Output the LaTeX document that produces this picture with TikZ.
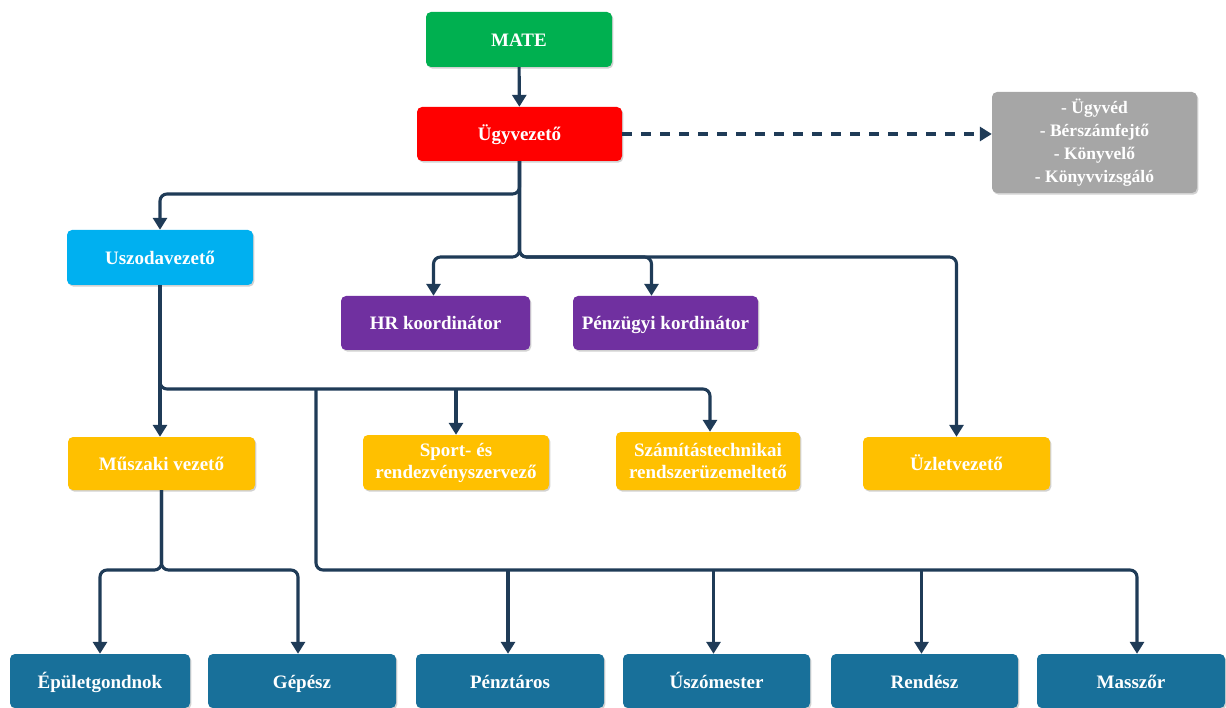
\documentclass[tikz,border=0pt]{standalone}
\usepackage{fontspec}
\setmainfont{Liberation Serif}
\usetikzlibrary{arrows.meta,shadows}
\definecolor{mategreen}{HTML}{00B050}
\definecolor{ugyred}{HTML}{FF0000}
\definecolor{kulsogrey}{HTML}{A6A6A6}
\definecolor{uszblue}{HTML}{00B0F0}
\definecolor{mgmtpurple}{HTML}{7030A0}
\definecolor{leadorange}{HTML}{FFC000}
\definecolor{staffblue}{RGB}{24,112,154}
\definecolor{linecol}{RGB}{31,59,87}
\tikzset{
	box/.style={rounded corners=5pt,text=white,align=center,
		font=\fontsize{19}{22}\selectfont\bfseries,
		text height=16pt,text depth=2pt,
		minimum width=187pt,minimum height=54pt,inner sep=2pt,
		drop shadow={shadow xshift=1.3pt,shadow yshift=-1.6pt,fill=black,opacity=0.18}},
	twoline/.style={text height=,text depth=},
	arr/.style={->,line width=3.1pt,draw=linecol,rounded corners=7pt},
}
\begin{document}
\begin{tikzpicture}[>={Triangle[width=14pt,length=12pt]},x=1pt,y=-1pt]
	\useasboundingbox (0,0) rectangle (1226,708);
	\def\rowb{681}
	% felso szint
	\node[box,fill=mategreen,minimum width=186pt,minimum height=55pt] (mate) at (519,39.5) {MATE};
	\node[box,fill=ugyred,minimum width=205pt] (ugy) at (519.5,134) {Ügyvezető};
	\node[box,twoline,fill=kulsogrey,minimum width=205pt,minimum height=101pt,
		font=\fontsize{17.5}{23}\selectfont\bfseries] (kulso) at (1094.5,142.5)
		{- Ügyvéd\\- Bérszámfejtő\\- Könyvelő\\- Könyvvizsgáló};
	\node[box,fill=uszblue,minimum width=186pt,minimum height=55pt] (uszoda) at (160,257.5) {Uszodavezető};
	\node[box,fill=mgmtpurple,minimum width=189pt] (hr) at (435.5,323) {HR koordinátor};
	\node[box,fill=mgmtpurple,minimum width=185pt] (penz) at (665.5,323) {Pénzügyi kordinátor};
	% vezetok
	\node[box,fill=leadorange,minimum height=53pt] (muszaki) at (161.5,463.5) {Műszaki vezető};
	\node[box,twoline,fill=leadorange,minimum width=186pt,minimum height=55pt] (sport) at (456,462.5) {Sport- és\\rendezvényszervező};
	\node[box,twoline,fill=leadorange,minimum width=184pt,minimum height=58pt] (szamit) at (708,461) {Számítástechnikai\\rendszerüzemeltető};
	\node[box,fill=leadorange,minimum height=53pt] (uzlet) at (956.5,463.5) {Üzletvezető};
	% munkatarsak
	\node[box,fill=staffblue,minimum width=180pt] (epulet) at (100,\rowb) {Épületgondnok};
	\node[box,fill=staffblue,minimum width=188pt] (gepesz) at (302,\rowb) {Gépész};
	\node[box,fill=staffblue,minimum width=188pt] (penzt) at (510,\rowb) {Pénztáros};
	\node[box,fill=staffblue,minimum width=187pt] (uszom) at (716.5,\rowb) {Úszómester};
	\node[box,fill=staffblue,minimum width=187pt] (rendesz) at (924.5,\rowb) {Rendész};
	\node[box,fill=staffblue,minimum width=188pt] (massz) at (1131,\rowb) {Masszőr};
	% elagazasok
	\coordinate (j0) at (519.5,194);
	\coordinate (j1) at (519.5,257);
	\coordinate (j2) at (160,389);
	\coordinate (j3) at (316,389);
	\coordinate (j4) at (316,570);
	\coordinate (j5) at (161.5,570);
	\draw[arr] (mate) -- (ugy);
	\draw[arr,dashed,dash pattern=on 10pt off 9pt] (ugy.east) -- (kulso.west |- ugy.east);
	\draw[arr] (ugy.south) -- (j0) -| (uszoda.north);
	\draw[arr] (ugy.south) -- (j1) -| ([xshift=-2pt]hr.north);
	\draw[arr] (ugy.south) -- (j1) -| ([xshift=-14pt]penz.north);
	\draw[arr] (ugy.south) -- (j1) -| (uzlet.north);
	\draw[arr] (uszoda.south) -- (j2) -- (muszaki.north -| j2);
	\draw[arr] (uszoda.south) -- (j2) -| ([xshift=2pt]szamit.north);
	\draw[arr] (sport.north |- j2) -- (sport.north);
	\draw[arr] (j3) -- (j4) -| ([xshift=6pt]massz.north);
	\draw[arr] ([xshift=-2pt]penzt.north |- j4) -- ([xshift=-2pt]penzt.north);
	\draw[arr] ([xshift=-3pt]uszom.north |- j4) -- ([xshift=-3pt]uszom.north);
	\draw[arr] ([xshift=-3pt]rendesz.north |- j4) -- ([xshift=-3pt]rendesz.north);
	\draw[arr] (muszaki.south) -- (j5) -| (epulet.north);
	\draw[arr] (muszaki.south) -- (j5) -| ([xshift=-4pt]gepesz.north);
\end{tikzpicture}
\end{document}
